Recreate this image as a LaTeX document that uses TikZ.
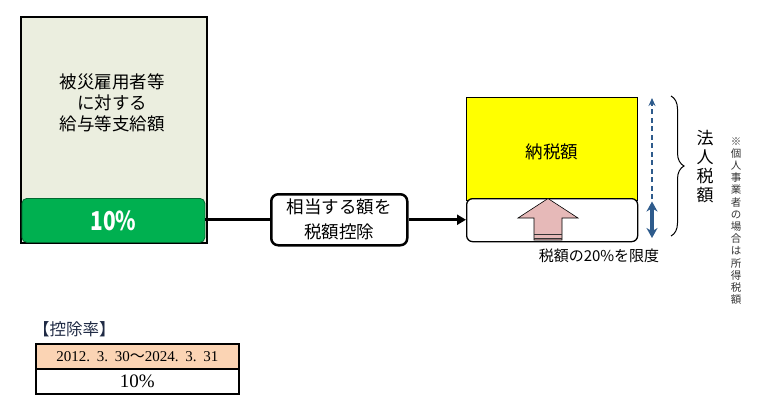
\documentclass[tikz,border=0pt]{standalone}
\usepackage{fontspec}
\setmainfont{Noto Sans CJK JP}
\newfontfamily\serifen{Liberation Serif}
\newfontfamily\pctfont{Noto Sans CJK JP}[FakeStretch=0.8]
\usetikzlibrary{arrows.meta,decorations.pathreplacing}
\definecolor{boxbg}{HTML}{EBEEDF}
\definecolor{grn}{HTML}{00B050}
\definecolor{ylw}{HTML}{FFFF00}
\definecolor{pinkarr}{HTML}{E6B9B8}
\definecolor{peach}{HTML}{FBD4B4}
\definecolor{darkblue}{HTML}{2E5B8C}
\definecolor{slate}{HTML}{1F2A44}
\newcommand\dsp{.\hspace{0.45em}}
\tikzset{
  boxnode/.style={draw, anchor=north west, inner sep=0pt},
  jtext/.style={font=\fontsize{17.5}{21}\selectfont, align=center},
  conn/.style={line width=3pt},
}
\begin{document}
\begin{tikzpicture}[x=1pt,y=-1pt]
\useasboundingbox (0,0) rectangle (757,407);
% left box
\node[boxnode, line width=2pt, fill=boxbg, minimum width=186pt, minimum height=226pt] (main) at (20,16) {};
\node[jtext] (maintext) at (112,103) {被災雇用者等\\に対する\\給与等支給額};
\node[boxnode, draw=grn!60!black, line width=0.8pt, fill=grn, rounded corners=5pt, minimum width=183pt, minimum height=44pt, text=white, font=\pctfont\bfseries\fontsize{26}{28}\selectfont] (pct) at (21.5,198) {10\%};
% middle box
\node[boxnode, line width=2.5pt, rounded corners=7pt, minimum width=136pt, minimum height=51pt, font=\fontsize{17.5}{25}\selectfont, align=center] (mid) at (270,193) {相当する額を\\税額控除};
% right boxes
\node[boxnode, line width=1.3pt, fill=ylw, minimum width=171pt, minimum height=103pt] (tax) at (466,97) {};
\node[jtext] (taxtext) at (552,152) {納税額};
\node[boxnode, line width=1.3pt, fill=white, rounded corners=6pt, minimum width=171pt, minimum height=43pt] (credit) at (466,198) {};
% connectors
\draw[conn] (pct.east |- mid.west) -- (mid.west);
\draw[conn, -{Triangle[length=9pt,width=10pt]}] (mid.east) -- (credit.west |- mid.east);
% pink arrow
\draw[fill=pinkarr, line width=0.6pt] (534,240) -- (534,218) -- (518,218) -- (548,198.5) -- (578,218) -- (562,218) -- (562,240) -- cycle;
\draw[line width=1.3pt, black!80] (534,234.5) -- (562,234.5) (534,238.5) -- (562,238.5);
% blue arrows
\coordinate (dtop) at (652,98);
\coordinate (dbot) at (652,199);
\coordinate (stop) at (652,201.5);
\coordinate (sbot) at (652,238);
\draw[darkblue, line width=1.3pt, dash pattern=on 5pt off 3.5pt, -{Stealth[length=8pt,width=7pt]}] (dbot) -- (dtop);
\draw[darkblue, line width=3.2pt, {Stealth[length=10pt,width=11pt]}-{Stealth[length=10pt,width=11pt]}] (stop) -- (sbot);
% brace
\coordinate (bt) at (671,96);
\coordinate (bb) at (671,236);
\draw[decorate, decoration={brace, amplitude=13pt}, line width=1pt] (bt) -- (bb);
\node[font=\fontsize{17}{19}\selectfont, align=center] (hojin) at (705,167) {法\\人\\税\\額};
\node[font=\fontsize{10.5}{12.2}\selectfont, align=center, text=black!80] (note) at (736,221) {※\\個\\人\\事\\業\\者\\の\\場\\合\\は\\所\\得\\税\\額};
\node[font=\fontsize{15}{17}\selectfont] (limit) at (599,256) {税額の20\%を限度};
% table
\node[anchor=west, inner sep=0pt, font=\fontsize{16.5}{18}\selectfont, text=slate] (rate) at (33,329) {【控除率】};
\node[boxnode, line width=1.8pt, fill=peach, minimum width=203pt, minimum height=25pt] (r1) at (35,343) {};
\node[font=\serifen\fontsize{15}{17}\selectfont] (r1t) at (r1.center) {2012\dsp 3\dsp 30{\normalfont ～}2024\dsp 3\dsp 31};
\node[boxnode, line width=1.8pt, minimum width=203pt, minimum height=25pt] (r2) at (35,368) {};
\node[font=\serifen\fontsize{19}{21}\selectfont] (r2t) at (r2.center) {10\%};
\end{tikzpicture}
\end{document}
